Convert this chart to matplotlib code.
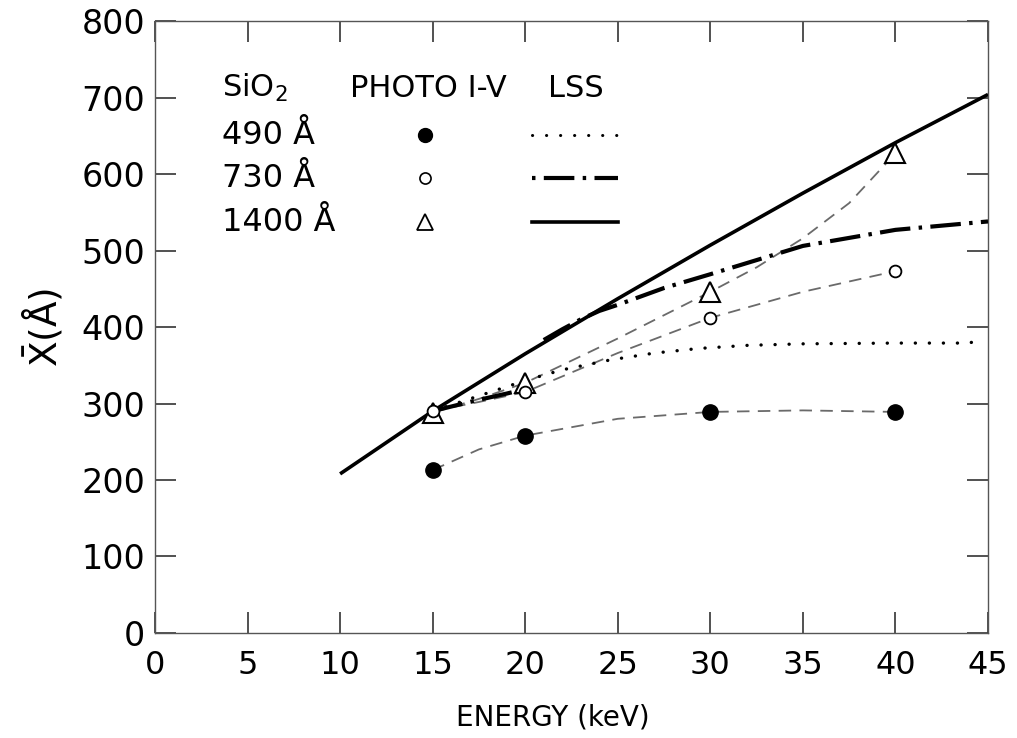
import matplotlib
matplotlib.use("Agg")
import matplotlib.pyplot as plt
from matplotlib.lines import Line2D

plt.rcParams["font.family"] = ["DejaVu Sans"]
plt.rcParams["lines.scale_dashes"] = False

# measured points (PHOTO I-V)
energy = [15, 20, 30, 40]
photo_490 = [213, 258, 289, 289]
photo_730 = [290, 315, 412, 473]
photo_1400 = [288, 327, 446, 627]

guide_490_x = [15, 17.5, 20, 25, 30, 35, 40]
guide_490_y = [213, 240, 258, 280, 289, 291, 289]
guide_730_x = [15, 17.5, 20, 25, 30, 35, 40]
guide_730_y = [290, 302, 315, 366, 412, 446, 473]
guide_1400_x = [15, 17.5, 20, 25, 30, 32.5, 35, 37.5, 40]
guide_1400_y = [288, 306, 327, 385, 446, 478, 516, 562, 627]

# LSS theory curves
lss_1400_x = [10, 15, 20, 25, 30, 35, 40, 45]
lss_1400_y = [208, 290, 365, 437, 507, 575, 641, 704]
lss_730_low_x = [15, 17, 19, 20.2]
lss_730_low_y = [290, 302, 313, 320]
lss_730_high_x = [21, 22, 23, 24, 25, 27.5, 30, 35, 40, 45]
lss_730_high_y = [383, 397, 410, 421, 429, 451, 469, 506, 527, 538]
lss_490_x = [15, 17, 19, 20, 22, 24.6, 27, 29.4, 32, 35, 40, 44, 44.7]
lss_490_y = [290, 306, 322, 330, 344, 357, 366, 372, 376, 378, 379, 379, 385]

xticks = [0, 5, 10, 15, 20, 25, 30, 35, 40, 45]
yticks = [0, 100, 200, 300, 400, 500, 600, 700, 800]

fig = plt.figure(figsize=(10.17, 7.38), dpi=100)
ax = fig.add_axes([0.1524, 0.1423, 0.8191, 0.8292])

dashdot = (0, (22, 6, 2.5, 6))
dotted = (0, (0.1, 10))
guide = (0, (9, 6))

# guide dashed lines
for gx, gy in [(guide_490_x, guide_490_y), (guide_730_x, guide_730_y), (guide_1400_x, guide_1400_y)]:
    ax.plot(gx, gy, color="#6a6a6a", lw=1.3, linestyle=guide, zorder=2)

# LSS curves
ax.plot(lss_1400_x, lss_1400_y, color="black", lw=2.6, solid_capstyle="butt", zorder=3)
ax.plot(lss_730_low_x, lss_730_low_y, color="black", lw=3.0, linestyle=dashdot, zorder=3)
ax.plot(lss_730_high_x, lss_730_high_y, color="black", lw=3.0, linestyle=dashdot, zorder=3)
ax.plot(lss_490_x, lss_490_y, color="black", lw=2.4, linestyle=dotted,
        dash_capstyle="round", zorder=3)

# measured points
ax.plot(energy, photo_490, "o", color="black", ms=11, zorder=5)
ax.plot(energy, photo_1400, "^", mfc="white", mec="black", mew=1.5, ms=14, zorder=5)
ax.plot(energy, photo_730, "o", mfc="white", mec="black", mew=1.3, ms=8.5, zorder=6)

ax.set_xlim(0, 45)
ax.set_ylim(0, 800)
ax.set_xticks(xticks)
ax.set_yticks(yticks)
ax.set_xticklabels([str(v) for v in xticks], fontsize=23)
ax.set_yticklabels([str(v) for v in yticks], fontsize=24)
ax.tick_params(axis="both", direction="in", length=15, width=1.2, color="#333333",
               top=True, right=True)
ax.tick_params(axis="x", pad=12)
ax.tick_params(axis="y", labelright=False, pad=7)
for sp in ax.spines.values():
    sp.set_color("#555555")
    sp.set_linewidth(1.0)

ax.set_xlabel("ENERGY (keV)", fontsize=20, va="center")
ax.xaxis.set_label_coords((553 - 155) / 833, (633 - 718) / 612)
ax.set_ylabel(r"$\mathregular{\bar{X}}$(Å)", fontsize=27, labelpad=12)

# legend drawn as a small table
tr = ax.transAxes
def ax_xy(px, py):
    return ((px - 155) / 833, (633 - py) / 612)

hdr_y = 88
for txt, px in [("SiO$_2$", 222), ("PHOTO I-V", 350), ("LSS", 548)]:
    x, y = ax_xy(px, hdr_y)
    ax.text(x, y, txt, transform=tr, fontsize=22, va="center", ha="left")

rows = [("490 Å", 135), ("730 Å", 178), ("1400 Å", 222)]
for label, py in rows:
    x, y = ax_xy(222, py)
    ax.text(x, y, label, transform=tr, fontsize=23, va="center", ha="left")

mx, _ = ax_xy(425, 0)
x0, _ = ax_xy(532, 0)
x1, _ = ax_xy(618, 0)
_, y1 = ax_xy(0, 135)
_, y2 = ax_xy(0, 178)
_, y3 = ax_xy(0, 222)
ax.add_line(Line2D([mx], [y1], transform=tr, marker="o", color="black", ms=10, ls="none"))
ax.add_line(Line2D([mx], [y2], transform=tr, marker="o", mfc="white", mec="black",
                   mew=1.2, ms=8, ls="none"))
ax.add_line(Line2D([mx], [y3], transform=tr, marker="^", mfc="white", mec="black",
                   mew=1.3, ms=12, ls="none"))
ax.add_line(Line2D([x0, x1], [y1, y1], transform=tr, color="black", lw=2.2,
                   ls=(0, (0.1, 10)), dash_capstyle="round"))
ax.add_line(Line2D([x0, x1], [y2, y2], transform=tr, color="black", lw=3.0,
                   ls=(0, (2.5, 6, 22, 6))))
ax.add_line(Line2D([x0, x1], [y3, y3], transform=tr, color="black", lw=2.6))

fig.savefig("out.png", dpi=100, facecolor="white")
